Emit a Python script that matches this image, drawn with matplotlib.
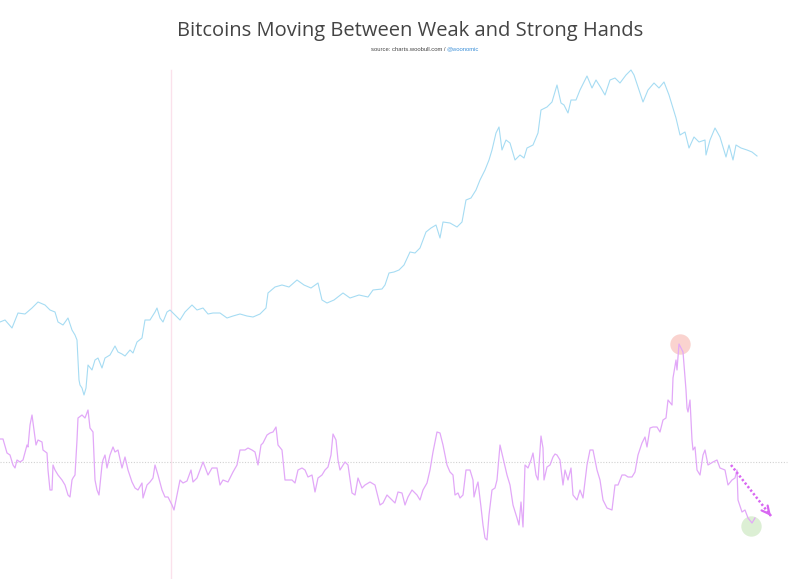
import matplotlib
matplotlib.use("Agg")
import matplotlib.pyplot as plt

# price (arbitrary index units)
price_day = [0, 5, 12, 18, 25, 32, 38, 45, 50, 55,
             58, 63, 68, 72, 75, 77, 79, 80, 82, 84,
             86, 88, 92, 95, 98, 102, 105, 110, 115, 118,
             122, 125, 130, 133, 137, 142, 145, 150, 155, 157,
             160, 163, 167, 170, 173, 180, 185, 192, 197, 203,
             208, 213, 220, 227, 233, 240, 247, 253, 260, 266,
             268, 275, 282, 289, 297, 304, 311, 318, 322, 327,
             334, 343, 350, 359, 368, 373, 382, 385, 389, 394,
             399, 404, 410, 415, 420, 426, 431, 436, 440, 443,
             450, 457, 462, 466, 471, 476, 480, 485, 489, 492,
             496, 499, 502, 506, 510, 515, 520, 524, 527, 533,
             538, 541, 547, 552, 557, 561, 564, 568, 571, 576,
             580, 587, 592, 596, 601, 605, 610, 615, 620, 626,
             631, 634, 638, 643, 648, 654, 659, 664, 669, 673,
             676, 680, 685, 689, 694, 699, 705, 706, 710, 715,
             720, 726, 729, 733, 736, 741, 747, 752, 757]
price = [257, 259, 251, 266, 265, 271, 277, 274, 269, 267,
         257, 254, 261, 249, 244, 239, 199, 194, 191, 184,
         191, 214, 209, 219, 221, 211, 221, 224, 233, 227,
         225, 223, 229, 226, 237, 241, 259, 259, 267, 271,
         261, 257, 267, 269, 266, 259, 267, 274, 269, 271,
         265, 266, 266, 261, 263, 265, 263, 262, 265, 271,
         286, 292, 294, 292, 299, 294, 291, 296, 279, 276,
         279, 286, 281, 284, 282, 289, 290, 294, 306, 307,
         309, 314, 327, 326, 331, 347, 351, 354, 341, 357,
         356, 352, 357, 379, 381, 389, 399, 409, 419, 429,
         446, 452, 429, 439, 436, 419, 424, 421, 431, 434,
         446, 469, 472, 477, 494, 476, 474, 466, 479, 479,
         489, 503, 491, 499, 491, 484, 499, 501, 496, 504,
         509, 504, 492, 477, 489, 496, 491, 497, 484, 471,
         461, 444, 447, 431, 442, 437, 439, 424, 439, 451,
         442, 422, 434, 419, 434, 431, 429, 427, 423]

# weak/strong hands oscillator, zero = dotted line
osc_day = [0, 3, 7, 10, 13, 15, 17, 20, 23, 27,
           28, 30, 32, 34, 36, 38, 42, 43, 47, 48,
           50, 52, 53, 55, 58, 62, 65, 68, 70, 72,
           73, 75, 77, 78, 82, 85, 88, 90, 93, 95,
           97, 99, 102, 103, 105, 107, 110, 113, 115, 118,
           122, 125, 128, 132, 135, 138, 142, 143, 147, 150,
           153, 155, 158, 162, 165, 168, 172, 174, 177, 180,
           183, 187, 191, 193, 197, 200, 203, 205, 208, 212,
           217, 220, 223, 228, 233, 237, 240, 245, 248, 252,
           255, 258, 261, 263, 267, 270, 273, 276, 278, 282,
           285, 288, 292, 295, 298, 302, 305, 308, 312, 315,
           318, 322, 325, 328, 331, 333, 336, 338, 340, 345,
           348, 352, 355, 358, 362, 365, 370, 375, 380, 383,
           387, 392, 395, 398, 402, 405, 408, 412, 417, 420,
           423, 427, 430, 433, 437, 440, 443, 447, 450, 453,
           455, 458, 460, 463, 466, 470, 473, 474, 477, 478,
           481, 483, 485, 487, 489, 492, 495, 497, 500, 503,
           507, 510, 513, 517, 519, 521, 523, 525, 528, 531,
           533, 536, 538, 541, 543, 544, 547, 550, 553, 555,
           557, 560, 563, 565, 568, 571, 573, 577, 580, 583,
           587, 590, 593, 597, 600, 603, 607, 612, 615, 618,
           622, 625, 628, 632, 635, 638, 642, 645, 647, 650,
           653, 657, 660, 663, 666, 668, 672, 673, 676, 677,
           679, 682, 683, 686, 687, 688, 690, 692, 693, 695,
           697, 700, 703, 705, 708, 713, 717, 720, 725, 728,
           732, 735, 737, 738, 742, 745, 748, 752, 755]
osc = [23, 23, 9, 7, -3, -6, 2, 0, 2, 17,
       15, 37, 47, 32, 17, 22, 20, 12, 9, -8,
       -28, -28, -3, -8, -13, -18, -23, -33, -35, -18,
       -16, -13, 22, 44, 47, 44, 52, 34, 30, -18,
       -28, -33, -3, 2, 7, -6, 7, 15, 10, 12,
       -6, 5, -8, -20, -26, -28, -21, -36, -23, -20,
       -16, -3, -13, -28, -35, -35, -43, -48, -33, -18,
       -21, -19, -8, -20, -16, -8, 0, -5, -13, -6,
       -6, -23, -18, -20, -10, -3, 12, 12, 14, 12,
       10, -3, 17, 19, 27, 29, 30, 35, 17, 12,
       -18, -18, -18, -21, -8, -6, -8, -15, -13, -30,
       -16, -13, -8, -5, 7, 28, 22, 2, -8, 0,
       -3, -31, -33, -16, -26, -23, -20, -23, -43, -41,
       -33, -38, -41, -30, -31, -43, -35, -28, -33, -38,
       -28, -21, -8, 10, 30, 29, 17, -3, -10, -13,
       -33, -31, -36, -33, -8, -8, -18, -35, -23, -20,
       -45, -63, -76, -78, -53, -28, -26, -18, 17, 4,
       -13, -23, -43, -56, -63, -40, -65, -3, -6, 2,
       9, -13, -18, 26, 14, -18, -5, -3, 5, 8,
       7, 2, -23, -8, -18, -6, -33, -38, -28, -36,
       -3, 12, 12, -8, -18, -38, -46, -48, -23, -23,
       -13, -13, -15, -15, -10, 7, 19, 25, 15, 34,
       35, 35, 30, 42, 44, 62, 57, 84, 102, 92,
       118, 112, 110, 72, 54, 50, 62, 22, 12, 15,
       -8, -13, 7, 12, -3, 0, 2, -6, -8, -23,
       -18, -16, -8, -38, -50, -48, -56, -61, -56]

# highlighted points and trend arrow
peak_day, peak_val = 680, 118
low_day, low_val = 751, -64
arrow_from = (731, -3)
arrow_to = (771, -54)
marker_day = 171

fig = plt.figure(figsize=(8.05, 5.79), dpi=100)
ax = fig.add_axes([0, 0, 1, 1])
ax2 = ax.twinx()
for a in (ax, ax2):
    a.set_xlim(0, 805)
    a.axis("off")
ax.set_ylim(0, 579)
ax2.set_ylim(-117, 462)

ax.axvline(marker_day, ymin=0, ymax=509 / 579, color="#fbe1eb", lw=1.0)
ax2.plot([0, 787], [0, 0], color="#d2d2d2", lw=0.8, ls=(0, (1, 1.5)))

ax.plot(price_day, price, color="#a6dcf3", lw=0.8)
ax2.plot(osc_day, osc, color="#e2a8f8", lw=0.9)

ax2.scatter([peak_day], [peak_val], s=215, color="#fad3cf", lw=0, zorder=1)
ax2.scatter([low_day], [low_val], s=215, color="#dcefd4", lw=0, zorder=1)

# dotted shaft, then an open head at the end
arrow_color = "#d867f2"
ax2.plot([arrow_from[0], arrow_to[0]], [arrow_from[1], arrow_to[1]],
         color=arrow_color, lw=1.8, ls=(0, (0.9, 0.9)), solid_capstyle="butt")
ax2.annotate("", xy=arrow_to,
             xytext=(arrow_to[0] - 0.8, arrow_to[1] + 1.0),
             arrowprops=dict(arrowstyle="->", color=arrow_color, lw=1.6,
                             mutation_scale=14, shrinkA=0, shrinkB=0))

fig.text(0.509, 0.946, "Bitcoins Moving Between Weak and Strong Hands",
         ha="center", va="center", fontsize=14.5, color="#444444",
         family="Open Sans")
fig.text(0.555, 0.915, "source: charts.woobull.com / ", ha="right", va="center",
         fontsize=4.2, color="#444444", family="Liberation Sans")
fig.text(0.555, 0.915, "@woonomic", ha="left", va="center",
         fontsize=4.2, color="#3a8fd8", family="Liberation Sans")

fig.savefig("out.png", dpi=100)
